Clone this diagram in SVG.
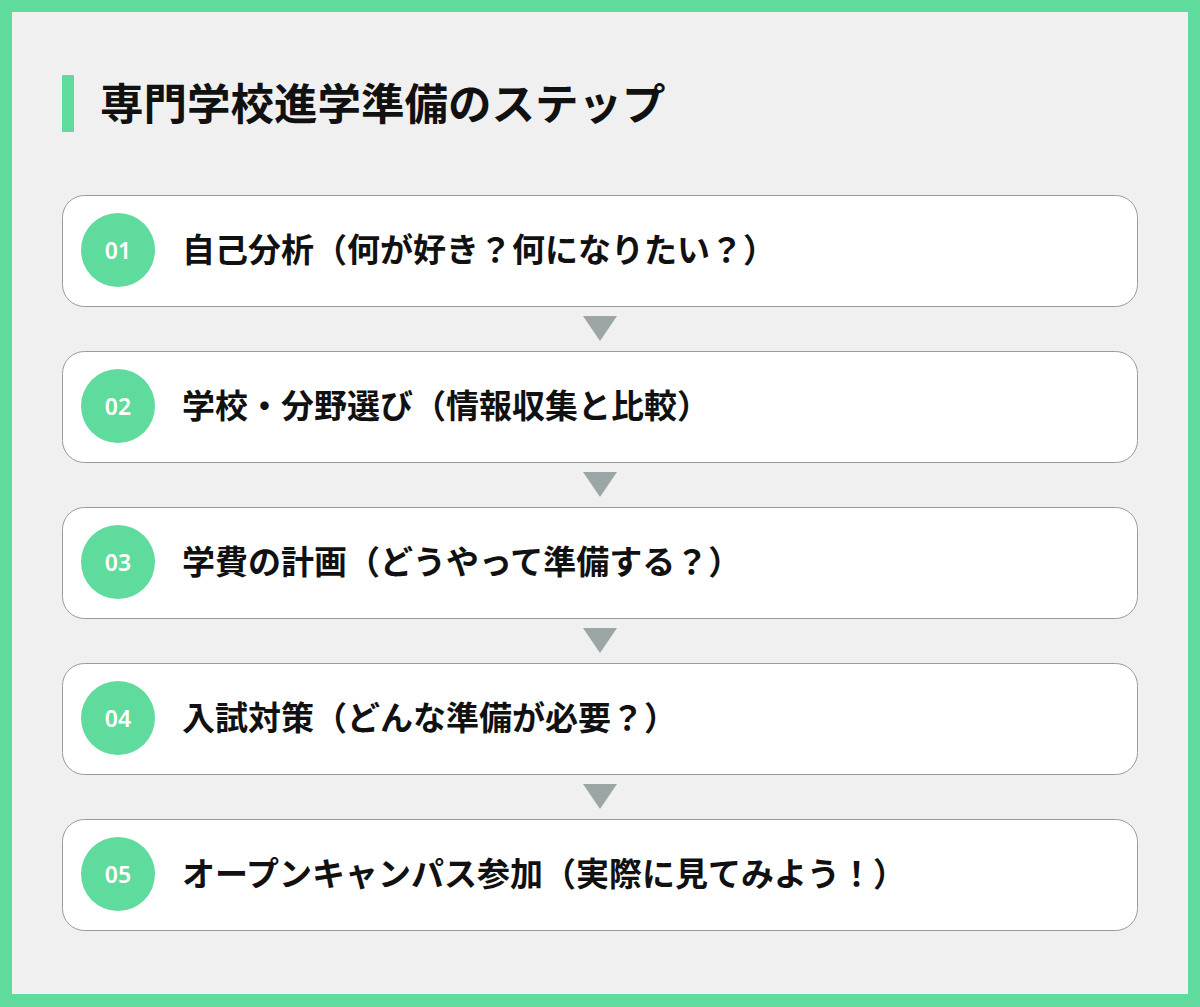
<svg xmlns="http://www.w3.org/2000/svg" width="1200" height="1007" viewBox="0 0 1200 1007">
<style>
.node rect{fill:#ffffff;stroke:#9a9a9a;stroke-width:1}
.node circle{fill:#5fdb9d}
.num{font-family:"Noto Sans","Liberation Sans",sans-serif;font-weight:600;font-size:23px;fill:#ffffff;text-anchor:middle}
.lbl{font-family:"Noto Sans CJK JP",sans-serif;font-weight:700;font-size:33px;fill:#111111}
.title{font-family:"Noto Sans CJK JP",sans-serif;font-weight:700;font-size:43.5px;fill:#111111}
.arrow{fill:#9ca6a6}
</style>
<rect x="0" y="0" width="1200" height="1007" fill="#5fdb9d"/>
<rect x="12" y="12" width="1176" height="982" fill="#f0f0f0"/>
<g id="title">
<rect x="62" y="75" width="12" height="57" fill="#5fdb9d"/>
<text class="title" x="100" y="120">専門学校進学準備のステップ</text>
</g>
<g id="connectors">
<polygon class="arrow" points="583,316 617,316 600,341"/>
<polygon class="arrow" points="583,472 617,472 600,497"/>
<polygon class="arrow" points="583,628 617,628 600,653"/>
<polygon class="arrow" points="583,784 617,784 600,809"/>
</g>
<g id="step1" class="node">
<rect x="62.5" y="195.5" width="1075" height="111" rx="22"/>
<circle cx="118" cy="250" r="37"/>
<text class="num" x="118" y="259">01</text>
<text class="lbl" x="182" y="262">自己分析（何が好き？何になりたい？）</text>
</g>
<g id="step2" class="node">
<rect x="62.5" y="351.5" width="1075" height="111" rx="22"/>
<circle cx="118" cy="406" r="37"/>
<text class="num" x="118" y="415">02</text>
<text class="lbl" x="182" y="418">学校・分野選び（情報収集と比較）</text>
</g>
<g id="step3" class="node">
<rect x="62.5" y="507.5" width="1075" height="111" rx="22"/>
<circle cx="118" cy="562" r="37"/>
<text class="num" x="118" y="571">03</text>
<text class="lbl" x="182" y="574">学費の計画（どうやって準備する？）</text>
</g>
<g id="step4" class="node">
<rect x="62.5" y="663.5" width="1075" height="111" rx="22"/>
<circle cx="118" cy="718" r="37"/>
<text class="num" x="118" y="727">04</text>
<text class="lbl" x="182" y="730">入試対策（どんな準備が必要？）</text>
</g>
<g id="step5" class="node">
<rect x="62.5" y="819.5" width="1075" height="111" rx="22"/>
<circle cx="118" cy="874" r="37"/>
<text class="num" x="118" y="883">05</text>
<text class="lbl" x="182" y="886">オープンキャンパス参加（実際に見てみよう！）</text>
</g>
</svg>
